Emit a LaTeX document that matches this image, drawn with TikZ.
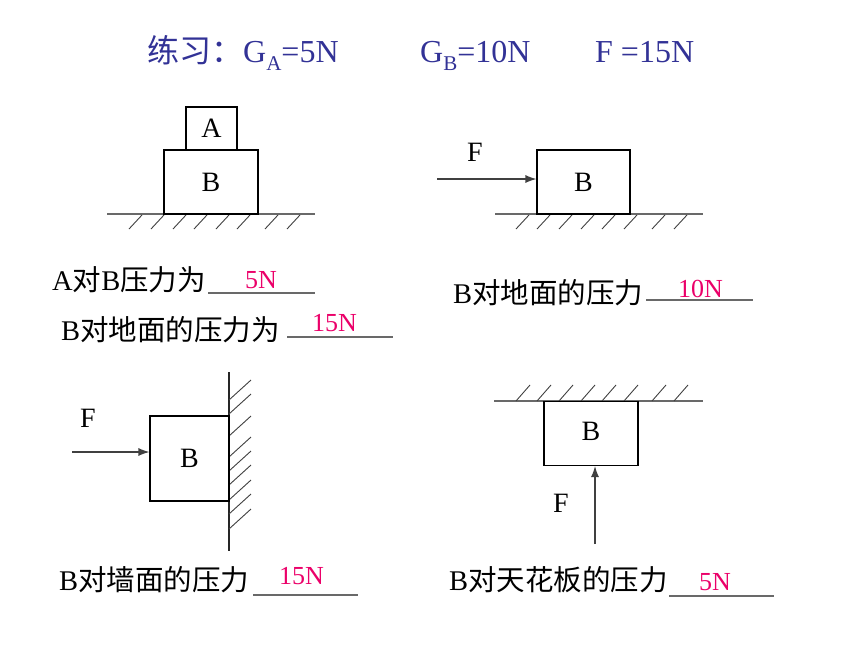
\documentclass[tikz,border=0pt]{standalone}
\usepackage{fontspec}
\setmainfont{Liberation Serif}
\newfontfamily\cjk{Noto Sans CJK SC}
\usetikzlibrary{arrows.meta}
\definecolor{ttlblue}{RGB}{50,50,150}
\definecolor{ansred}{RGB}{235,0,105}
\definecolor{lngray}{RGB}{105,105,105}
\newcommand\mysub[1]{\raisebox{-8pt}{\fontsize{21}{21}\selectfont #1}}
\tikzset{
  boxnode/.style={draw=black, line width=1.1pt, inner sep=0pt, font=\fontsize{28}{28}\selectfont},
  flabel/.style={inner sep=0pt, font=\fontsize{28}{28}\selectfont},
  ground/.style={draw=lngray, line width=1.6pt},
  hatch/.style={draw=black!75, line width=0.9pt},
  wallline/.style={draw=black!85, line width=1.3pt},
  farrow/.style={draw=black!75, line width=1.1pt, -{Latex[length=11pt,width=8pt]}},
  ttl/.style={anchor=base west, inner sep=0pt, text=ttlblue, font=\fontsize{32}{34}\selectfont},
  qtext/.style={anchor=base west, inner sep=0pt, font=\fontsize{28.5}{30}\selectfont},
  anstext/.style={anchor=base west, inner sep=0pt, text=ansred, font=\fontsize{26}{28}\selectfont},
  uline/.style={draw=lngray, line width=1.2pt}
}
\begin{document}
\begin{tikzpicture}[x=1pt,y=-1pt]
\useasboundingbox (0,0) rectangle (860,645);
% title
\node[ttl] (t1) at (147,62) {{\cjk 练习：}G\mysub{A}=5N};
\node[ttl] (t2) at (420,62) {G\mysub{B}=10N};
\node[ttl] (t3) at (595,62) {F =15N};

% --- top-left: A on B on ground
\draw[ground] (107,214) -- (315,214);
\foreach \x in {129,151,173,194,216,237,265,287} \draw[hatch] (\x,229) -- ++(13,-14);
\node[boxnode, minimum width=51pt, minimum height=43pt] (A) at (211.5,128.5) {A};
\node[boxnode, minimum width=94pt, minimum height=64pt] (B1) at (211,182) {B};

% --- top-right: F pushes B on ground
\draw[ground] (495,214) -- (703,214);
\foreach \x in {516,537,559,581,602,624,652,674} \draw[hatch] (\x,229) -- ++(13,-14);
\node[boxnode, minimum width=93pt, minimum height=64pt] (B2) at (583.5,182) {B};
\coordinate (f1s) at (437,179);
\draw[farrow] (f1s) -- (f1s -| B2.west);
\node[flabel] (F1) at (475,152) {F};

% texts middle
\node[qtext] (q1) at (52,290) {A{\cjk 对}B{\cjk 压力为}};
\draw[uline] (208,293) -- (315,293);
\node[anstext] (a1) at (245,288) {5N};
\node[qtext] (q2) at (61,340) {B{\cjk 对地面的压力为}};
\draw[uline] (287,337) -- (393,337);
\node[anstext] (a2) at (312,331) {15N};
\node[qtext] (q3) at (453,303) {B{\cjk 对地面的压力}};
\draw[uline] (646,300) -- (753,300);
\node[anstext] (a3) at (678,297) {10N};

% --- bottom-left: wall
\draw[wallline] (229,372) -- (229,551);
\foreach \y in {400,414,436,457,471,485,500,514,529} \draw[hatch] (229,\y) -- ++(22,-20);
\node[boxnode, minimum width=79pt, minimum height=85pt] (B3) at (189.5,458.5) {B};
\coordinate (f2s) at (72,452);
\draw[farrow] (f2s) -- (f2s -| B3.west);
\node[flabel] (F2) at (88,418) {F};

% --- bottom-right: ceiling
\draw[ground] (494,401) -- (703,401);
\foreach \x in {516,537,559,581,602,624,652,674} \draw[hatch] (\x,401) -- ++(14,-16);
\node[boxnode, minimum width=94pt, minimum height=64pt] (B4) at (591,433.5) {};
\node[flabel] (B4l) at (591,431) {B};
\coordinate (f3s) at (595,544);
\draw[farrow] (f3s) -- (f3s |- B4.south);
\node[flabel] (F3) at (561,503) {F};

% texts bottom
\node[qtext] (q4) at (59,590) {B{\cjk 对墙面的压力}};
\draw[uline] (253,595) -- (358,595);
\node[anstext] (a4) at (279,584) {15N};
\node[qtext] (q5) at (449,590) {B{\cjk 对天花板的压力}};
\draw[uline] (669,596) -- (774,596);
\node[anstext] (a5) at (699,590) {5N};
\end{tikzpicture}
\end{document}
